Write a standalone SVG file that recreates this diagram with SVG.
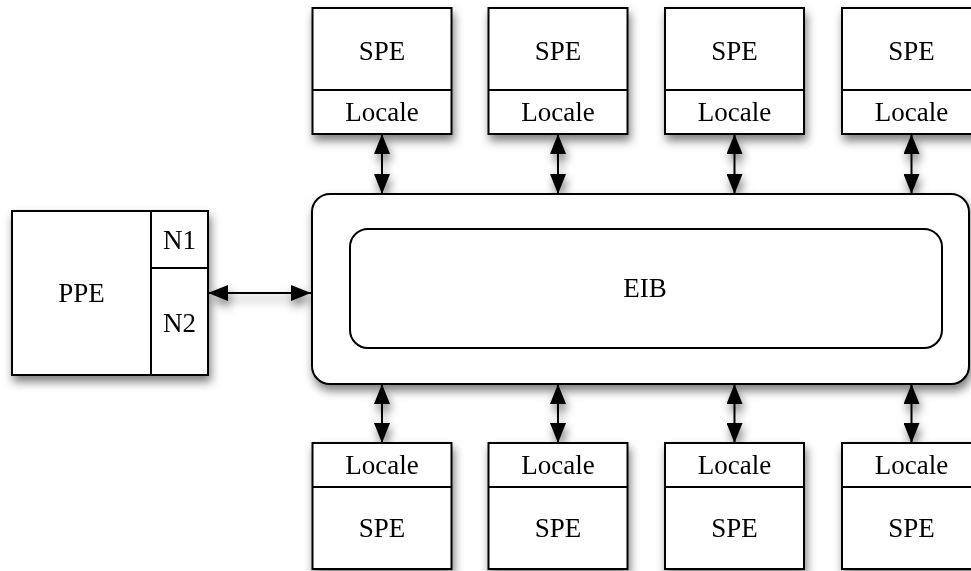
<svg xmlns="http://www.w3.org/2000/svg" width="971" height="571" viewBox="0 0 971 571">
<defs>
<filter id="sh" x="-20%" y="-20%" width="140%" height="160%">
<feDropShadow dx="2" dy="6" stdDeviation="5" flood-color="#000" flood-opacity="0.5"/>
</filter>
<marker id="ah" viewBox="0 0 20 16" refX="20" refY="8" markerWidth="20" markerHeight="16" markerUnits="userSpaceOnUse" orient="auto-start-reverse">
<path d="M0,0 L20,8 L0,16 Z" fill="#000"/>
</marker>
</defs>
<style>
.box{fill:#fff;stroke:#000;stroke-width:2}
.ln{fill:none;stroke:#000;stroke-width:2}
.t{font-family:"Liberation Serif","Times New Roman",serif;font-size:27px;fill:#000;text-anchor:middle}
.c{stroke:#000;stroke-width:2;fill:none;marker-start:url(#ah);marker-end:url(#ah)}
</style>
<rect width="971" height="571" fill="#fff"/>
<g id="connectors" filter="url(#sh)">
<line class="c" x1="208" y1="293" x2="311" y2="293"/>
<line class="c" x1="382" y1="134" x2="382" y2="194"/>
<line class="c" x1="558" y1="134" x2="558" y2="194"/>
<line class="c" x1="734.5" y1="134" x2="734.5" y2="194"/>
<line class="c" x1="911.5" y1="134" x2="911.5" y2="194"/>
<line class="c" x1="382" y1="384" x2="382" y2="443"/>
<line class="c" x1="558" y1="384" x2="558" y2="443"/>
<line class="c" x1="734.5" y1="384" x2="734.5" y2="443"/>
<line class="c" x1="911.5" y1="384" x2="911.5" y2="443"/>
</g>
<g id="bus" filter="url(#sh)">
<rect class="box" x="312" y="194" width="657" height="190" rx="18"/>
<rect class="box" x="350" y="229" width="592" height="119" rx="18"/>
<text class="t" x="645" y="297">EIB</text>
</g>
<g id="ppe" filter="url(#sh)">
<rect class="box" x="12" y="211" width="196" height="164"/>
<line class="ln" x1="151" y1="211" x2="151" y2="375"/>
<line class="ln" x1="151" y1="268" x2="208" y2="268"/>
<text class="t" x="81.5" y="302">PPE</text>
<text class="t" x="179.5" y="249">N1</text>
<text class="t" x="179.5" y="332">N2</text>
</g>
<g id="spe-top-1" filter="url(#sh)">
<rect class="box" x="312.5" y="8" width="139" height="126"/>
<line class="ln" x1="312.5" y1="90" x2="451.5" y2="90"/>
<text class="t" x="382" y="60">SPE</text>
<text class="t" x="382" y="121">Locale</text>
</g>
<g id="spe-top-2" filter="url(#sh)">
<rect class="box" x="488.5" y="8" width="139" height="126"/>
<line class="ln" x1="488.5" y1="90" x2="627.5" y2="90"/>
<text class="t" x="558" y="60">SPE</text>
<text class="t" x="558" y="121">Locale</text>
</g>
<g id="spe-top-3" filter="url(#sh)">
<rect class="box" x="665" y="8" width="139" height="126"/>
<line class="ln" x1="665" y1="90" x2="804" y2="90"/>
<text class="t" x="734.5" y="60">SPE</text>
<text class="t" x="734.5" y="121">Locale</text>
</g>
<g id="spe-top-4" filter="url(#sh)">
<rect class="box" x="842" y="8" width="139" height="126"/>
<line class="ln" x1="842" y1="90" x2="981" y2="90"/>
<text class="t" x="911.5" y="60">SPE</text>
<text class="t" x="911.5" y="121">Locale</text>
</g>
<g id="spe-bot-1" filter="url(#sh)">
<rect class="box" x="312.5" y="443" width="139" height="126"/>
<line class="ln" x1="312.5" y1="487" x2="451.5" y2="487"/>
<text class="t" x="382" y="474">Locale</text>
<text class="t" x="382" y="537">SPE</text>
</g>
<g id="spe-bot-2" filter="url(#sh)">
<rect class="box" x="488.5" y="443" width="139" height="126"/>
<line class="ln" x1="488.5" y1="487" x2="627.5" y2="487"/>
<text class="t" x="558" y="474">Locale</text>
<text class="t" x="558" y="537">SPE</text>
</g>
<g id="spe-bot-3" filter="url(#sh)">
<rect class="box" x="665" y="443" width="139" height="126"/>
<line class="ln" x1="665" y1="487" x2="804" y2="487"/>
<text class="t" x="734.5" y="474">Locale</text>
<text class="t" x="734.5" y="537">SPE</text>
</g>
<g id="spe-bot-4" filter="url(#sh)">
<rect class="box" x="842" y="443" width="139" height="126"/>
<line class="ln" x1="842" y1="487" x2="981" y2="487"/>
<text class="t" x="911.5" y="474">Locale</text>
<text class="t" x="911.5" y="537">SPE</text>
</g>
</svg>
